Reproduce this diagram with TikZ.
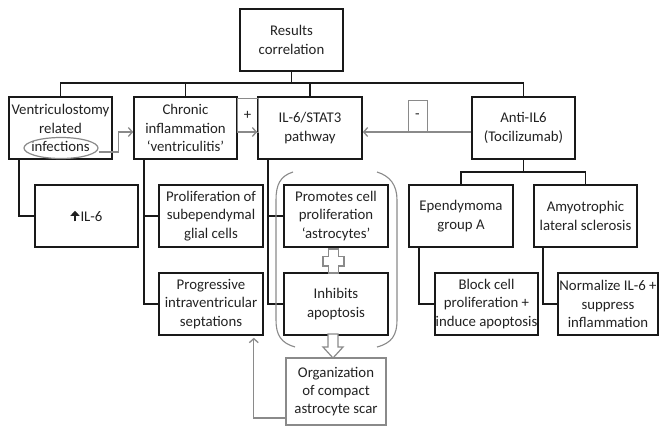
\documentclass[tikz,border=0pt]{standalone}
\usepackage{fontspec}
\setmainfont{Carlito}
\usetikzlibrary{arrows.meta,shapes.geometric,calc}
\definecolor{txt}{HTML}{222222}
\definecolor{gline}{HTML}{8A8A8A}
\newcommand{\uparr}{\tikz[baseline=0pt]{\draw[line width=2.4pt, draw=txt, -{Triangle[length=5pt,width=9pt]}] (0pt,0pt) -- (0pt,10.5pt);}\hspace{1pt}}
\begin{document}
\begin{tikzpicture}[x=1pt,y=-1pt,
  box/.style={draw=black!90, line width=1.6pt, minimum width=103pt, minimum height=62pt,
    inner sep=0pt, align=center, text=txt, font=\fontsize{14.8}{18.4}\selectfont},
  gbox/.style={box, draw=gline, line width=1.4pt},
  conn/.style={draw=black!90, line width=1.6pt},
  garrow/.style={draw=gline, line width=1.3pt, -{Straight Barb[length=4pt,width=9pt]}},
  signbox/.style={draw=gline, line width=0.9pt, inner sep=0pt, text=txt,
    font=\fontsize{14.8}{18.4}\selectfont},
  gshape/.style={draw=gline, line width=1.2pt, fill=white}]
\useasboundingbox (0,0) rectangle (660,428);

% boxes
\node[box] (res) at (291.5,40) {Results\\correlation};
\node[box] (ven) at (60.5,128) {Ventriculostomy\\related\\infections};
\node[box] (chr) at (185.5,128) {Chronic\\inflammation\\‘ventriculitis’};
\node[box, minimum width=104pt] (il6) at (310,128) {IL-6/STAT3\\pathway};
\node[box] (anti) at (523.5,128) {Anti-IL6\\(Tocilizumab)};
\node[box] (up) at (86.5,216) {\uparr IL-6};
\node[box, minimum width=104pt] (prol) at (211,216) {Proliferation of\\subependymal\\glial cells};
\node[box, minimum width=104pt] (prom) at (336,216) {Promotes cell\\proliferation\\‘astrocytes’};
\node[box, minimum width=104pt] (epen) at (461,216) {Ependymoma\\group A};
\node[box] (amy) at (585.5,216) {Amyotrophic\\lateral sclerosis};
\node[box, minimum width=104pt] (prog) at (211,304) {Progressive\\intraventricular\\septations};
\node[box, minimum width=104pt] (inh) at (336,304) {Inhibits\\apoptosis};
\node[box] (blk) at (486.5,304) {Block cell\\proliferation +\\induce apoptosis};
\node[box, minimum width=100pt] (norm) at (608,304) {Normalize IL-6 +\\suppress\\inflammation};
\node[gbox, minimum width=100pt, minimum height=67pt] (org) at (336,391.5) {Organization\\of compact\\astrocyte scar};

% top bus
\coordinate (bus) at (0,83);
\draw[conn] (res.south) -- (res.south |- bus);
\draw[conn] (ven.north) -- (ven.north |- bus) -- (anti.north |- bus) -- (anti.north);
\draw[conn] (chr.north) -- (chr.north |- bus);
\draw[conn] (il6.north) -- (il6.north |- bus);

% stem start points
\coordinate (vs) at ($(ven.south west)+(11,0)$);
\coordinate (cs) at ($(chr.south west)+(11,0)$);
\coordinate (is) at ($(il6.south west)+(11,0)$);
\coordinate (es) at ($(epen.south west)+(11,0)$);
\coordinate (as) at ($(amy.south west)+(10,0)$);

% left branches
\draw[conn] (vs) |- (up.west);
\draw[conn] (cs) |- (prog.west);
\draw[conn] (cs |- prol.west) -- (prol.west);
\draw[conn] (is) |- (inh.west);
\draw[conn] (is |- prom.west) -- (prom.west);

% right branches
\coordinate (rbus) at (0,172);
\draw[conn] (anti.south) -- (anti.south |- rbus);
\draw[conn] (epen.north) -- (epen.north |- rbus) -- (amy.north |- rbus) -- (amy.north);
\draw[conn] (es) |- (blk.west);
\draw[conn] (as) |- (norm.west);

% ellipse and gray arrows
\node[ellipse, draw=gline, line width=1.2pt, minimum width=74pt, minimum height=21pt, inner sep=0pt] (ell) at (61,148) {};
\draw[garrow] ([yshift=-4pt]ell.east) -- ++(20,0) |- ([yshift=-4pt]chr.west);
\node[signbox, minimum width=21pt, minimum height=34pt] (plus) at (247.5,115) {+};
\draw[garrow] ([yshift=-4pt]chr.east) -- ([yshift=-4pt]il6.west);
\node[signbox, minimum width=19pt, minimum height=32pt] (minus) at (417.5,116) {-};
\draw[garrow] ([yshift=-4pt]anti.west) -- ([yshift=-4pt]il6.east);

% bracket around promotes / inhibits
\draw[draw=gline, line width=1.1pt] (293,172) .. controls (280,176) and (276,185) .. (276,200) -- (276,320) .. controls (276,335) and (281,343) .. (295,347);
\draw[draw=gline, line width=1.1pt] (377,172) .. controls (390,176) and (397,185) .. (397,200) -- (397,320) .. controls (397,335) and (392,343) .. (377,347);

% plus cross
\draw[gshape] (328.5,249) -- (338.5,249) -- (338.5,256.5) -- (344,256.5) -- (344,266) -- (338.5,266) -- (338.5,273) -- (328.5,273) -- (328.5,266) -- (323,266) -- (323,256.5) -- (328.5,256.5) -- cycle;

% block down arrow
\draw[gshape] (328,334) -- (338,334) -- (338,347) -- (343,347) -- (333,358) -- (323,347) -- (328,347) -- cycle;

% feedback arrow
\draw[garrow, shorten >=2pt] ([yshift=-26.5pt]org.west) -| ($(prog.south east)+(-10,0)$);
\end{tikzpicture}
\end{document}
